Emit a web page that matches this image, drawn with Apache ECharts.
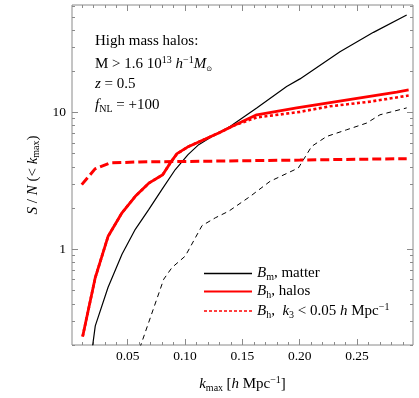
<!DOCTYPE html>
<html><head><meta charset="utf-8">
<script src="https://cdn.jsdelivr.net/npm/echarts@6/dist/echarts.min.js"></script>
<style>html,body{margin:0;padding:0;background:#fff}#c{width:419px;height:398px}</style>
</head><body><div id="c"></div>
<script>
// ---- data ----
const kMatter  = [0.0194,0.0217,0.0328,0.0450,0.0566,0.0683,0.0799,0.0915,0.1026,0.1119,0.1235,0.1392,0.1625,0.1886,0.2002,0.2351,0.2643,0.2933];
const snMatter = [0.198,0.276,0.526,0.920,1.40,1.95,2.74,3.83,4.92,5.82,6.68,7.91,10.8,15.5,17.6,27.8,38.5,51.5];

const kMatterD  = [0.0605,0.0814,0.0886,0.1002,0.1148,0.1264,0.1381,0.1569,0.1741,0.1988,0.2104,0.2235,0.2410,0.2584,0.2700,0.2933];
const snMatterD = [0.19,0.605,0.736,0.893,1.49,1.70,1.90,2.44,3.14,3.93,5.65,6.68,7.48,8.37,9.62,10.8];

const kHalo  = [0.0107,0.0217,0.0328,0.0450,0.0566,0.0688,0.0805,0.0871,0.0930,0.1032,0.1177,0.1293,0.1421,0.1625,0.1974,0.2555,0.2846,0.2950];
const snHalo = [0.231,0.622,1.24,1.85,2.44,3.06,3.51,4.28,5.0,5.65,6.4,7.08,8.0,9.62,10.8,12.9,14.1,14.6];

const kHaloK3  = [0.0107,0.0217,0.0328,0.0450,0.0566,0.0688,0.0805,0.0871,0.0930,0.1032,0.1177,0.1293,0.1421,0.1625,0.2002,0.2264,0.2613,0.2950];
const snHaloK3 = [0.231,0.622,1.24,1.85,2.44,3.06,3.51,4.28,5.0,5.65,6.4,7.08,8.0,9.2,10.1,11.1,12.0,13.3];

const kHaloD  = [0.0099,0.0215,0.0345,0.0600,0.1130,0.2002,0.2933];
const snHaloD = [2.97,3.87,4.28,4.35,4.40,4.49,4.60];

const xMajor = [0.05,0.10,0.15,0.20,0.25];
const xMinor = [0.01,0.02,0.03,0.04,0.06,0.07,0.08,0.09,0.11,0.12,0.13,0.14,0.16,0.17,0.18,0.19,0.21,0.22,0.23,0.24,0.26,0.27,0.28,0.29];
const yMajor = [1,10];
const yMinor = [0.2,0.3,0.4,0.5,0.6,0.7,0.8,0.9,2,3,4,5,6,7,8,9,20,30,40,50,60];

const zip = (a,b)=>a.map((v,i)=>[v,b[i]]);
const SERIF = "'Liberation Serif','Times New Roman',serif";
const FRAME = '#8a8a8a';
const XMIN=0.0014, XMAX=0.2988, YMIN=0.2, YMAX=61;

const rich = {
  r:{fontFamily:SERIF,fontSize:15,lineHeight:18,color:'#000'},
  i:{fontFamily:SERIF,fontSize:15,fontStyle:'italic',lineHeight:18,color:'#000'},
  sub:{fontFamily:SERIF,fontSize:10,lineHeight:10,verticalAlign:'bottom',color:'#000'},
  sup:{fontFamily:SERIF,fontSize:10,lineHeight:10,verticalAlign:'top',color:'#000'},
  sun:{fontFamily:"'DejaVu Sans',sans-serif",fontSize:7,lineHeight:8,verticalAlign:'bottom',color:'#000'}
};

function xAx(pos, vals, len, labels){
  return {type:'value',position:pos,min:XMIN,max:XMAX,
    axisLine:{show:false},splitLine:{show:false},
    axisTick:{show:true,inside:true,length:len,customValues:vals,lineStyle:{color:FRAME}},
    axisLabel:{show:labels,customValues:vals,margin:4,fontFamily:SERIF,fontSize:13.5,color:'#000',formatter:v=>v.toFixed(2)}};
}
function yAx(pos, vals, len, labels){
  return {type:'log',logBase:10,position:pos,min:YMIN,max:YMAX,
    axisLine:{show:false},splitLine:{show:false},
    axisTick:{show:true,inside:true,length:len,customValues:vals,lineStyle:{color:FRAME}},
    axisLabel:{show:labels,customValues:vals,margin:6,fontFamily:SERIF,fontSize:13.5,color:'#000',formatter:v=>String(Math.round(v))}};
}
const xAxes=[xAx('bottom',xMajor,6,true),xAx('bottom',xMinor,3,false),xAx('top',xMajor,6,false),xAx('top',xMinor,3,false)];
xAxes[0].name='{i|k}{sub|max} {r|[}{i|h}{r| Mpc}{sup|−1}{r|]}';
xAxes[0].nameLocation='middle'; xAxes[0].nameGap=30;
xAxes[0].nameTextStyle={rich:rich};
const yAxes=[yAx('left',yMajor,6,true),yAx('left',yMinor,3,false),yAx('right',yMajor,6,false),yAx('right',yMinor,3,false)];
yAxes[0].name='{i|S}{r| / }{i|N}{r| (< }{i|k}{sub|max}{r|)}';
yAxes[0].nameLocation='middle'; yAxes[0].nameGap=23;
yAxes[0].nameTextStyle={rich:rich};

const chart = echarts.init(document.getElementById('c'),null,{renderer:'canvas'});
chart.setOption({
  animation:false,
  grid:{left:72,right:6,top:5,bottom:52,show:true,borderColor:FRAME,borderWidth:1,backgroundColor:'transparent'},
  xAxis:xAxes, yAxis:yAxes,
  legend:{show:true,orient:'vertical',left:198,top:261,itemWidth:48,itemHeight:14,itemGap:1.5,
    itemStyle:{opacity:0},
    textStyle:{rich:rich},
    data:[
      {name:'matter',lineStyle:{width:1.4}},
      {name:'halos',lineStyle:{width:2}},
      {name:'k3',lineStyle:{width:1.6,type:[3,2]}}
    ],
    formatter:function(n){
      if(n==='matter') return '{i|B}{sub|m}{r|, matter}';
      if(n==='halos') return '{i|B}{sub|h}{r|, halos}';
      return '{i|B}{sub|h}{r|,  }{i|k}{sub|3}{r| < 0.05 }{i|h}{r| Mpc}{sup|−1}';
    }},
  graphic:[
    {type:'text',left:95,top:34,style:{text:'{r|High mass halos:}',rich:rich}},
    {type:'text',left:95,top:55,style:{text:'{r|M > 1.6 10}{sup|13}{r| }{i|h}{sup|−1}{i|M}{sun|⊙}',rich:rich}},
    {type:'text',left:95,top:77,style:{text:'{i|z}{r| = 0.5}',rich:rich}},
    {type:'text',left:95,top:98,style:{text:'{i|f}{sub|NL}{r| = +100}',rich:rich}}
  ],
  series:[
    {name:'matterDashed',type:'line',data:zip(kMatterD,snMatterD),symbol:'none',clip:true,
      lineStyle:{color:'#000',width:1,type:[5,4]}},
    {name:'matter',type:'line',data:zip(kMatter,snMatter),symbol:'none',clip:true,
      lineStyle:{color:'#000',width:1.2},itemStyle:{color:'#000'}},
    {name:'halosDashed',type:'line',data:zip(kHaloD,snHaloD),symbol:'none',clip:true,
      lineStyle:{color:'#f00',width:3,type:[9,4]}},
    {name:'k3',type:'line',data:zip(kHaloK3,snHaloK3),symbol:'none',clip:true,
      lineStyle:{color:'#f00',width:2.6,type:[3,2.5]},itemStyle:{color:'#f00'}},
    {name:'halos',type:'line',data:zip(kHalo,snHalo),symbol:'none',clip:true,
      lineStyle:{color:'#f00',width:2.8},itemStyle:{color:'#f00'}}
  ]
});
</script></body></html>
